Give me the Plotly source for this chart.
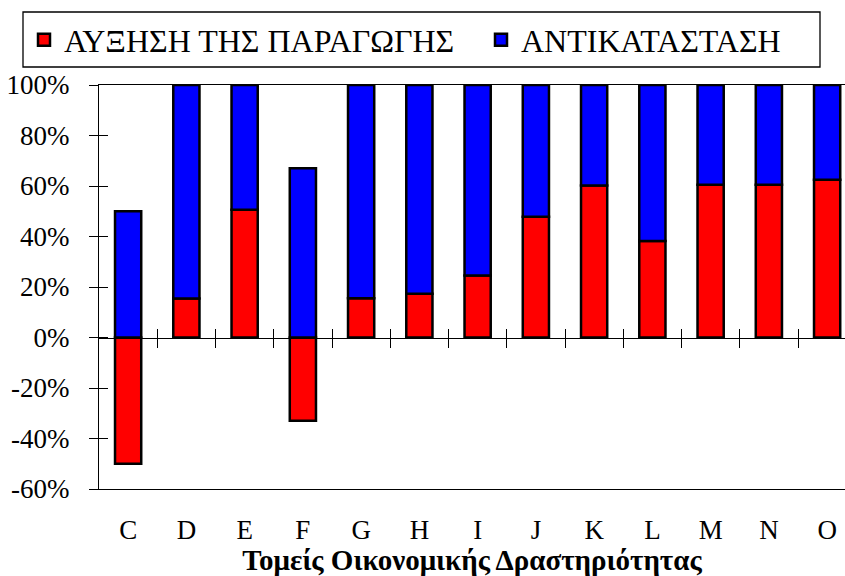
import plotly.graph_objects as go

categories = ["C", "D", "E", "F", "G", "H", "I", "J", "K", "L", "M", "N", "O"]
growth = [-50, 15.4, 50.6, -33, 15.5, 17.3, 24.6, 47.8, 60.2, 38.2, 60.5, 60.5, 62.5]
replacement = [50, 84.6, 49.4, 67, 84.5, 82.7, 75.4, 52.2, 39.8, 61.8, 39.5, 39.5, 37.5]
series_names = ["ΑΥΞΗΣΗ ΤΗΣ ΠΑΡΑΓΩΓΗΣ", "ΑΝΤΙΚΑΤΑΣΤΑΣΗ"]
y_ticks = [-60, -40, -20, 0, 20, 40, 60, 80, 100]
y_labels = ["-60%", "-40%", "-20%", "0%", "20%", "40%", "60%", "80%", "100%"]
x_title = "Τομείς Οικονομικής Δραστηριότητας"

FONT = "Liberation Serif, Times New Roman, serif"
W, H = 845, 576
L, R, T, B = 99, 0, 85, 87
plot_w = W - L - R
plot_h = H - T - B

fig = go.Figure()
fig.add_trace(go.Bar(x=categories, y=growth, name=series_names[0], width=0.45, legend="legend",
                     marker=dict(color="#FF0000", line=dict(color="black", width=2.5))))
fig.add_trace(go.Bar(x=categories, y=replacement, name=series_names[1], width=0.45, legend="legend2",
                     marker=dict(color="#0000FF", line=dict(color="black", width=2.5))))
# empty helper traces so that the tick-only overlay axes get drawn
for xa, ya in [("x2", "y"), ("x3", "y"), ("x", "y2")]:
    fig.add_trace(go.Scatter(x=[], y=[], xaxis=xa, yaxis=ya, showlegend=False, hoverinfo="skip"))

xmax = -0.5 + plot_w / 58.25
ymin, ymax = y_ticks[0], y_ticks[-1]
zero_pos = (0 - ymin) / (ymax - ymin)
boundaries = [i + 0.5 for i in range(len(categories) - 1)]

tick_style = dict(ticklen=9, tickcolor="black", tickwidth=1.3, showgrid=False, zeroline=False, automargin=False)

fig.update_layout(
    width=W, height=H,
    margin=dict(l=L, r=R, t=T, b=B, pad=0, autoexpand=False),
    paper_bgcolor="white", plot_bgcolor="white",
    barmode="relative",
    font=dict(family=FONT, color="black", size=27),
    xaxis=dict(
        type="category", categoryorder="array", categoryarray=categories,
        range=[-0.5, xmax], showline=True, mirror=True, linecolor="black", linewidth=1.3,
        ticks="", showgrid=False, zeroline=False, automargin=False,
        tickfont=dict(family=FONT, size=27, color="black"), ticklabelstandoff=16,
        title=dict(text=x_title, font=dict(family=FONT, size=29, color="black", weight="bold"), standoff=13),
    ),
    yaxis=dict(
        range=[ymin, ymax], tickmode="array", tickvals=y_ticks, ticktext=y_labels,
        showline=True, linecolor="black", linewidth=1.3, ticks="outside",
        tickfont=dict(family=FONT, size=27, color="black"), ticklabelstandoff=14, **tick_style,
    ),
    yaxis2=dict(
        overlaying="y", anchor="x", side="left", range=[ymin, ymax], tickmode="array", tickvals=y_ticks,
        ticks="inside", showticklabels=False, showline=False, **tick_style,
    ),
    xaxis2=dict(
        overlaying="x", anchor="free", position=zero_pos, range=[-0.5, xmax],
        tickmode="array", tickvals=boundaries, ticks="outside",
        showticklabels=False, showline=True, linecolor="black", linewidth=1.3, **tick_style,
    ),
    xaxis3=dict(
        overlaying="x", anchor="free", position=zero_pos, range=[-0.5, xmax],
        tickmode="array", tickvals=boundaries, ticks="inside",
        showticklabels=False, showline=False, **tick_style,
    ),
    legend=dict(
        orientation="h", xref="container", yref="container",
        x=24 / W, xanchor="left", y=1 - 40 / H, yanchor="middle",
        font=dict(family=FONT, size=32, color="black"), bgcolor="rgba(0,0,0,0)",
    ),
    legend2=dict(
        orientation="h", xref="container", yref="container",
        x=481 / W, xanchor="left", y=1 - 40 / H, yanchor="middle",
        font=dict(family=FONT, size=32, color="black"), bgcolor="rgba(0,0,0,0)",
    ),
    showlegend=True,
)

fig.add_shape(type="rect", xref="paper", yref="paper",
              x0=(23 - L) / plot_w, x1=(820 - L) / plot_w,
              y0=(H - B - 67) / plot_h, y1=(H - B - 12) / plot_h,
              line=dict(color="black", width=1.3), fillcolor="rgba(0,0,0,0)", layer="above")

fig.write_html("out.html", config={"displayModeBar": False},
               post_script="document.body.style.margin='0px';document.body.style.padding='0px';")
